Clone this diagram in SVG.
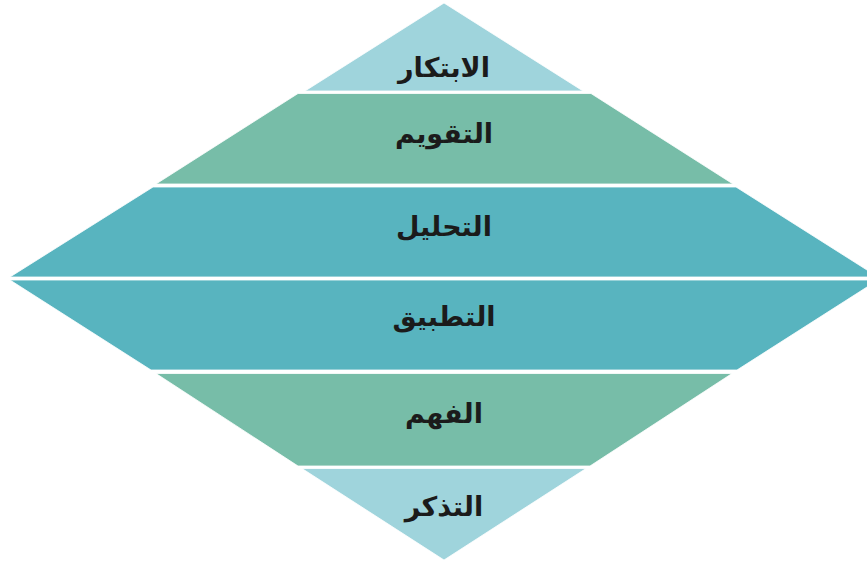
<svg xmlns="http://www.w3.org/2000/svg" width="867" height="566" viewBox="0 0 867 566">
  <style>
    .light { fill: #9fd4dc; }
    .green { fill: #77bda8; }
    .teal { fill: #58b4bf; }
    .band { stroke: #ffffff; stroke-width: 0.8; }
    .lbl { font-family: "DejaVu Sans", sans-serif; font-weight: bold; font-size: 27px; fill: #1b1b1b; text-anchor: middle; direction: rtl; }
  </style>
  <rect width="867" height="566" fill="#ffffff"/>
  <g id="level-ibtikar">
    <polygon class="band light" points="444,3 583,91 305,91"/>
    <text class="lbl" x="444" y="77">الابتكار</text>
  </g>
  <g id="level-taqwim">
    <polygon class="band green" points="298,93.5 591,93.5 733,184 156,184"/>
    <text class="lbl" x="444" y="143">التقويم</text>
  </g>
  <g id="level-tahlil">
    <polygon class="band teal" points="153,187 736,187 878,277 10,277"/>
    <text class="lbl" x="444" y="236">التحليل</text>
  </g>
  <g id="level-tatbiq">
    <polygon class="band teal" points="10,280 878,280 737,370 151,370"/>
    <text class="lbl" x="444" y="326">التطبيق</text>
  </g>
  <g id="level-fahm">
    <polygon class="band green" points="156,373.5 732,373.5 590,466 298,466"/>
    <text class="lbl" x="444" y="423">الفهم</text>
  </g>
  <g id="level-tadhakkur">
    <polygon class="band light" points="302,468.5 586,468.5 444,560"/>
    <text class="lbl" x="444" y="516">التذكر</text>
  </g>
  <g id="connectors"/>
</svg>
